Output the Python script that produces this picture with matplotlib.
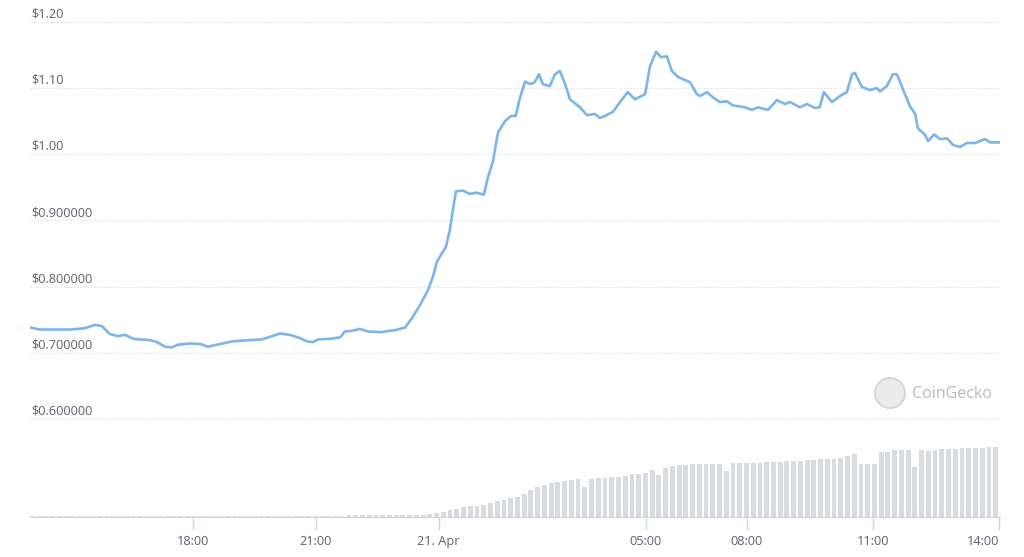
import matplotlib
matplotlib.use('Agg')
import matplotlib.pyplot as plt
import matplotlib.transforms as mtransforms
from matplotlib.patches import Circle
import numpy as np

# Price series: hours since 14:00 (20 Apr) and price in USD
hours = [0.00, 0.25, 0.62, 0.99, 1.36, 1.61, 1.78, 1.98, 2.18, 2.35, 2.55, 2.72,
         2.97, 3.14, 3.34, 3.51, 3.66, 3.96, 4.21, 4.40, 4.70, 5.00, 5.44, 5.74,
         5.99, 6.19, 6.43, 6.68, 6.85, 7.00, 7.13, 7.42, 7.67, 7.79, 7.97, 8.16,
         8.36, 8.66, 9.03, 9.28, 9.45, 9.65, 9.85, 9.97, 10.07, 10.19, 10.29, 10.39,
         10.46, 10.54, 10.71, 10.89, 11.03, 11.23, 11.33, 11.45, 11.58, 11.75, 11.90, 12.02,
         12.12, 12.25, 12.37, 12.49, 12.59, 12.69, 12.86, 12.99, 13.11, 13.24, 13.36, 13.61,
         13.78, 13.98, 14.10, 14.23, 14.42, 14.60, 14.79, 14.97, 15.22, 15.34, 15.49, 15.61,
         15.76, 15.88, 16.03, 16.33, 16.50, 16.58, 16.75, 16.90, 17.07, 17.24, 17.39, 17.69,
         17.86, 18.01, 18.26, 18.48, 18.68, 18.80, 19.05, 19.22, 19.42, 19.54, 19.64, 19.84,
         20.04, 20.21, 20.34, 20.41, 20.58, 20.78, 20.96, 21.03, 21.20, 21.35, 21.45, 21.60,
         21.77, 21.90, 21.97, 22.14, 22.22, 22.37, 22.51, 22.69, 22.84, 23.01, 23.18, 23.38,
         23.63, 23.75, 24.00]
price = [0.738, 0.735, 0.735, 0.735, 0.737, 0.742, 0.740, 0.728, 0.725, 0.727, 0.721, 0.720,
         0.719, 0.716, 0.709, 0.708, 0.712, 0.714, 0.713, 0.709, 0.713, 0.717, 0.719, 0.720,
         0.725, 0.729, 0.727, 0.722, 0.717, 0.716, 0.720, 0.721, 0.723, 0.732, 0.733, 0.736,
         0.732, 0.731, 0.734, 0.738, 0.752, 0.772, 0.795, 0.815, 0.838, 0.850, 0.860, 0.886,
         0.915, 0.944, 0.945, 0.940, 0.942, 0.939, 0.965, 0.988, 1.033, 1.050, 1.058, 1.058,
         1.085, 1.110, 1.106, 1.109, 1.121, 1.106, 1.103, 1.121, 1.126, 1.106, 1.083, 1.071,
         1.059, 1.061, 1.055, 1.058, 1.064, 1.079, 1.094, 1.083, 1.091, 1.133, 1.155, 1.147,
         1.148, 1.126, 1.117, 1.109, 1.091, 1.088, 1.094, 1.086, 1.079, 1.080, 1.074, 1.071,
         1.067, 1.071, 1.067, 1.082, 1.076, 1.079, 1.071, 1.076, 1.070, 1.071, 1.094, 1.079,
         1.088, 1.094, 1.121, 1.123, 1.102, 1.097, 1.100, 1.095, 1.103, 1.121, 1.121, 1.098,
         1.073, 1.061, 1.039, 1.030, 1.020, 1.030, 1.023, 1.024, 1.014, 1.011, 1.017, 1.017,
         1.023, 1.018, 1.018]

# Volume, one bar every 10 minutes (relative units)
volume = [1] * 47 + [2] * 11 + [
    2.5, 3, 4, 5, 7, 8, 10, 11, 11, 12, 14, 16, 17, 19, 20, 23, 27, 30, 32, 34,
    35, 36, 37, 38, 30, 38, 39, 39, 40, 40, 41, 43, 43, 44, 47, 42, 49, 51, 52, 52,
    53, 53, 53, 53, 53, 46, 54, 54, 54, 54, 54, 55, 55, 55, 56, 56, 56, 57, 57, 58,
    58, 58, 59, 61, 63, 53, 53, 53, 65, 65, 67, 67, 67, 50, 67, 66, 67, 68, 68, 68,
    69, 69, 69, 69, 70, 70, 70]
vol_hours = np.arange(len(volume)) / 6.0

price_ticks = [0.6, 0.7, 0.8, 0.9, 1.0, 1.1, 1.2]
price_labels = ['$0.600000', '$0.700000', '$0.800000', '$0.900000', '$1.00', '$1.10', '$1.20']
x_ticks = [4.03, 7.07, 10.11, 15.24, 17.74, 20.86, 23.97]
x_labels = ['18:00', '21:00', '21. Apr', '05:00', '08:00', '11:00', '14:00']

plt.rcParams['font.family'] = ['Open Sans', 'DejaVu Sans']
label_color = '#606070'

fig = plt.figure(figsize=(10.24, 5.57), dpi=100)
ax = fig.add_axes([30 / 1024, 40 / 557, 970 / 1024, 495 / 557])

# volume on a twin axis, drawn behind the price line
axv = ax.twinx()
axv.bar(vol_hours, volume, width=1 / 6 * 0.72, align='edge', color='#d8dbe0',
        edgecolor='none', zorder=1)
axv.set_ylim(0, max(volume) * 495 / 70)
axv.set_yticks([])
ax.set_zorder(axv.get_zorder() + 1)
ax.patch.set_visible(False)

ax.plot(hours, price, color='#7cb5ec', lw=1.9, solid_joinstyle='round', zorder=3)

ax.set_xlim(0, 24)
ax.set_ylim(0.4515, 1.2)

# dotted grid lines, labels sit on top of them
ytrans = mtransforms.blended_transform_factory(ax.transAxes, ax.transData)
for t, lab in zip(price_ticks, price_labels):
    ax.axhline(t, color='#e2e2e2', lw=0.8, ls=(0, (1.5, 1.5)), zorder=0)
    ax.text(0.001, t + 0.002, lab, transform=ytrans, ha='left', va='bottom',
            fontsize=9.2, color=label_color)
ax.set_yticks([])

ax.set_xticks(x_ticks)
ax.set_xticklabels(x_labels, fontsize=9.2, color=label_color)
ax.get_xticklabels()[-1].set_ha('right')
ax.tick_params(axis='x', length=9, width=1, color='#ccd6eb', pad=4)

for side in ['top', 'right', 'left']:
    ax.spines[side].set_visible(False)
    axv.spines[side].set_visible(False)
ax.spines['bottom'].set_color('#ccd6eb')
axv.spines['bottom'].set_visible(False)

# CoinGecko watermark
logo = Circle((890, 557 - 393), 15, transform=None, facecolor='#ebebeb',
              edgecolor='#d8d8d8', lw=1.5, zorder=5)
fig.patches.append(logo)
fig.text(912 / 1024, 1 - 394 / 557, 'CoinGecko', ha='left', va='center',
         fontsize=11.5, color='#b8b8b8')

plt.savefig('out.png', dpi=100)
